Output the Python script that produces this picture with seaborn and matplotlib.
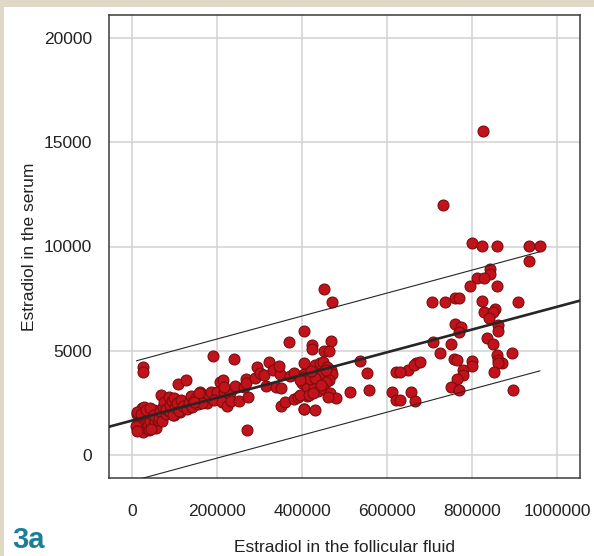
import matplotlib
matplotlib.use("Agg")
import matplotlib.pyplot as plt
from matplotlib.patches import Rectangle
import seaborn as sns
import numpy as np
import pandas as pd

# Estradiol in follicular fluid (x) vs serum (y)
follicular = [
    10000, 12000, 14000, 15000, 18000, 20000, 22000, 24000, 25000, 28000,
    30000, 32000, 34000, 36000, 38000, 40000, 42000, 45000, 48000, 50000,
    52000, 55000, 58000, 60000, 8000, 10000, 16000, 26000, 44000, 56000,
    25000, 25000,
    11000, 19000, 31000, 42000, 50000, 66000, 82000, 97000, 113000, 125000,
    62000, 65000, 66000, 70000, 72000, 74000, 78000, 80000, 85000, 88000,
    89000, 92000, 95000, 97000, 100000, 105000, 107000, 110000, 115000, 120000,
    125000, 128000, 132000, 138000, 140000, 145000, 150000, 155000, 160000, 165000,
    170000, 175000, 180000, 156000, 191000, 207000, 164000, 144000,
    184000, 199000, 215000, 229000, 193000, 211000, 223000, 232000, 252000, 271000,
    212000, 216000, 242000, 262000, 268000, 268000, 289000, 293000, 301000, 309000,
    322000, 331000, 347000, 344000, 315000, 339000, 350000, 350000, 360000, 380000,
    389000, 411000, 405000, 270000, 238000, 190000, 369000, 372000, 381000, 403000,
    412000, 405000,
    403000, 467000, 422000, 422000, 452000, 464000, 405000, 431000, 441000, 449000,
    458000, 467000, 471000, 464000, 455000, 399000, 411000, 427000, 437000, 449000,
    395000, 415000, 425000, 466000, 480000, 405000, 429000, 405000, 419000, 451000,
    469000, 440000, 430000, 455000, 445000, 420000, 395000, 460000,
    536000, 552000, 620000, 650000, 513000, 556000, 611000, 621000, 668000, 662000,
    631000, 657000, 666000, 631000, 678000,
    826000, 732000, 799000, 824000, 859000, 935000, 960000, 934000, 842000, 842000,
    812000, 829000, 795000, 859000, 706000, 736000, 759000, 770000, 824000, 909000,
    827000, 854000, 849000, 840000, 759000, 773000, 769000, 860000, 860000, 707000,
    751000, 835000, 850000, 725000, 757000, 764000, 799000, 799000, 858000, 862000,
    870000, 860000, 895000, 778000, 778000, 852000, 765000, 749000, 770000, 896000,
]
serum = [
    1950, 1500, 1200, 2050, 1700, 1350, 2250, 1100, 1850, 1550,
    2100, 1300, 1750, 1450, 2000, 1200, 1650, 1900, 1400, 2150,
    1600, 1300, 1850, 1700, 1400, 1150, 1900, 2300, 1250, 2000,
    4235, 3995,
    2070, 1990, 2160, 2240, 1920, 2070, 2070, 1920, 2070, 2240,
    1800, 2100, 2880, 1650, 2300, 2555, 1950, 2200, 2795, 2050,
    2400, 2600, 1900, 2720, 2300, 2480, 3390, 2100, 2650, 2350,
    3595, 2200, 2500, 2850, 2300, 2600, 2750, 2450, 3000, 2900,
    2600, 2500, 2800, 2960, 2960, 3515, 2480, 2555,
    3035, 3035, 3035, 2960, 2640, 2555, 2350, 2590, 2590, 2765,
    3595, 3275, 3325, 3275, 3630, 3470, 3680, 4235, 3950, 3835,
    4475, 4075, 3870, 4280, 3310, 3275, 3200, 2350, 2555, 2670,
    2765, 2830, 2190, 1200, 4590, 4750, 5435, 3805, 3950, 3870,
    3725, 3390,
    5960, 5470, 5260, 5100, 4990, 4990, 4400, 4315, 4400, 4475,
    4235, 4075, 3870, 3595, 3515, 3440, 3275, 3275, 3085, 3200,
    2880, 2880, 2960, 2960, 2720, 2190, 2160, 3755, 3630, 7960,
    7355, 3900, 3700, 4100, 3350, 4050, 3600, 2800,
    4510, 3950, 3965, 4075, 3035, 3115, 3035, 2640, 4425, 4300,
    3995, 3035, 2605, 2640, 4475,
    15540, 11990, 10150, 10040, 10020, 10010, 10040, 9320, 8905, 8665,
    8490, 8475, 8120, 8120, 7355, 7355, 7515, 7515, 7400, 7355,
    6875, 7000, 6875, 6555, 6280, 6155, 5915, 6235, 5945, 5435,
    5325, 5595, 5310, 4905, 4590, 4540, 4510, 4270, 4795, 4555,
    4425, 4395, 4890, 4075, 3835, 3965, 3645, 3245, 3115, 3115,
]

# Fitted regression line and prediction band
fit_intercept = 1660
fit_slope = 0.00545
band_x = [9400, 960000]
band_upper = [4520, 9750]
band_lower = [-1190, 4040]

x_ticks = [0, 200000, 400000, 600000, 800000, 1000000]
x_tick_labels = ["0", "200000", "400000", "600000", "800000", "1000000"]
y_ticks = [0, 5000, 10000, 15000, 20000]
y_tick_labels = ["0", "5000", "10000", "15000", "20000"]

df = pd.DataFrame({"follicular": follicular, "serum": serum})

sns.set_style("white")
plt.rcParams["font.family"] = ["Liberation Sans", "DejaVu Sans"]

fig = plt.figure(figsize=(5.94, 5.56), dpi=100)
fig.patch.set_facecolor("#e0d8c6")
fig.add_artist(Rectangle((4 / 594, 0), 1, 1 - 7 / 556, transform=fig.transFigure,
                         facecolor="white", edgecolor="none", zorder=0))

ax = fig.add_axes([108.5 / 594, 1 - 478 / 556, (580 - 108.5) / 594, (478 - 15) / 556])
ax.set_facecolor("white")

xlim = (-56500, 1054000)
ylim = (-1100, 21100)

ax.grid(True, color="#d2d2d2", linewidth=1.1, zorder=0)
ax.set_axisbelow(True)

sns.scatterplot(data=df, x="follicular", y="serum", ax=ax, s=62,
                color="#c2121b", edgecolor="#7c0d0d", linewidth=0.8,
                zorder=3, legend=False)

fit_x = np.array(xlim)
sns.lineplot(x=fit_x, y=fit_intercept + fit_slope * fit_x, ax=ax,
             color="#262626", linewidth=1.9, zorder=4)
sns.lineplot(x=band_x, y=band_upper, ax=ax, color="#262626", linewidth=0.8, zorder=4)
sns.lineplot(x=band_x, y=band_lower, ax=ax, color="#262626", linewidth=0.8, zorder=4)

ax.set_xlim(*xlim)
ax.set_ylim(*ylim)
ax.set_xticks(x_ticks)
ax.set_xticklabels(x_tick_labels)
ax.set_yticks(y_ticks)
ax.set_yticklabels(y_tick_labels)

for sp in ax.spines.values():
    sp.set_visible(True)
    sp.set_color("#3a3a3a")
    sp.set_linewidth(1.1)

ax.tick_params(axis="both", direction="out", length=8.5, width=1.1,
               color="#3a3a3a", labelsize=12.5, labelcolor="#222222")
ax.tick_params(axis="x", pad=10)
ax.tick_params(axis="y", pad=3.5)

ax.set_xlabel("Estradiol in the follicular fluid", fontsize=12.5, color="#222222", labelpad=15)
ax.set_ylabel("Estradiol in the serum", fontsize=12.5, color="#222222", labelpad=5)

fig.text(12 / 594, 1 - 548 / 556, "3a", fontsize=21, fontweight="bold",
         color="#1d7d9a", ha="left", va="baseline",
         family=["Liberation Sans Narrow", "Liberation Sans", "DejaVu Sans"])

fig.savefig("out.png", dpi=100, facecolor=fig.get_facecolor())
